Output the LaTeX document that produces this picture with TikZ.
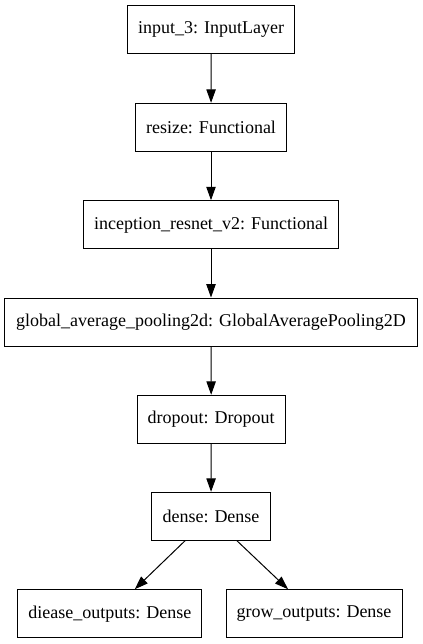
\documentclass[tikz,border=0pt]{standalone}
\usepackage{fontspec}
\setmainfont{Liberation Serif}
\usetikzlibrary{arrows.meta}
\begin{document}
\begin{tikzpicture}[x=0.75pt,y=-0.75pt,
  layer/.style={draw,line width=0.75pt,minimum height=36pt,inner xsep=0pt,inner ysep=0pt,font=\fontsize{13.5pt}{16pt}\selectfont},
  flow/.style={line width=0.75pt,-{Triangle[length=10pt,width=7pt]}}]
\useasboundingbox (0,0) rectangle (423,644);
\node[layer,minimum width=125.25pt] (in) at (211.2,29.7) {input\_3: InputLayer};
\node[layer,minimum width=113pt] (rs) at (211,127.3) {resize: Functional};
\node[layer,minimum width=191.5pt] (inc) at (211,224.7) {inception\_resnet\_v2: Functional};
\node[layer,minimum width=309.5pt] (gap) at (211,322) {global\_average\_pooling2d: GlobalAveragePooling2D};
\node[layer,minimum width=111.2pt] (dr) at (211.2,419.3) {dropout: Dropout};
\node[layer,minimum width=89pt] (de) at (211,516.3) {dense: Dense};
\node[layer,minimum width=138.2pt] (o1) at (109.8,613.7) {diease\_outputs: Dense};
\node[layer,minimum width=132pt] (o2) at (314,613.7) {grow\_outputs: Dense};
\draw[flow] (in) -- (rs);
\draw[flow] (rs) -- (inc);
\draw[flow] (inc) -- (gap);
\draw[flow] (gap) -- (dr);
\draw[flow] (dr) -- (de);
\draw[flow] ([xshift=-19.5pt]de.south) -- ([xshift=18.75pt]o1.north);
\draw[flow] ([xshift=19.5pt]de.south) -- ([xshift=-19.5pt]o2.north);
\end{tikzpicture}
\end{document}
